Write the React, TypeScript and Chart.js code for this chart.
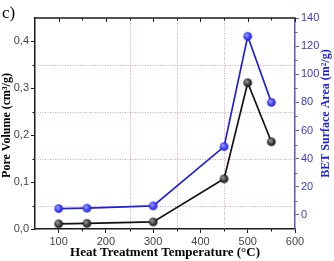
import React, { useEffect, useRef } from "react";
import { Chart, registerables } from "chart.js";

Chart.register(...registerables);

// Heat-treatment temperatures (°C)
const temperatures = [100, 160, 300, 450, 500, 550];
// Pore volume (cm³/g), left axis
const poreVolume = [0.011, 0.012, 0.015, 0.107, 0.312, 0.186];
// BET surface area (m²/g), right axis
const betArea = [4.5, 4.8, 6.4, 48.6, 127, 80];

const xTicks = [100, 200, 300, 400, 500, 600];
const xMinorTicks = [150, 250, 350, 450, 550];
const poreTicks = [0, 0.1, 0.2, 0.3, 0.4];
const poreMinorTicks = [0.05, 0.15, 0.25, 0.35];
const areaTicks = [0, 20, 40, 60, 80, 100, 120, 140];
const areaMinorTicks = [10, 30, 50, 70, 90, 110, 130];
const xGridLines = [250, 350, 450];
const poreGridLines = [0.05, 0.15, 0.25, 0.35];

const AXIS = "#1a1a1a";
const BLUE_AXIS = "#5a5ab8";
const BLUE_TEXT = "#3a3ad0";
const BLUE_LINE = "#1f1fe0";
const GRID = "rgba(220,105,125,0.65)";
const SANS = "'Liberation Sans', Arial, sans-serif";
const SERIF = "'Liberation Serif', 'Times New Roman', serif";

function sphere(base: string, light: string, r: number): HTMLCanvasElement {
  const c = document.createElement("canvas");
  const d = Math.ceil(r * 2 + 2);
  c.width = d;
  c.height = d;
  const g = c.getContext("2d")!;
  const cx = d / 2;
  const grad = g.createRadialGradient(cx - r * 0.35, cx - r * 0.35, r * 0.1, cx, cx, r);
  grad.addColorStop(0, light);
  grad.addColorStop(1, base);
  g.fillStyle = grad;
  g.beginPath();
  g.arc(cx, cx, r, 0, Math.PI * 2);
  g.fill();
  return c;
}

const framePlugin = {
  id: "frame",
  beforeDatasetsDraw(chart: any) {
    const { ctx, chartArea: a, scales } = chart;
    ctx.save();
    ctx.strokeStyle = GRID;
    ctx.lineWidth = 1;
    ctx.setLineDash([1, 1.5]);
    for (const v of xGridLines) {
      const x = Math.round(scales.x.getPixelForValue(v)) + 0.5;
      ctx.beginPath();
      ctx.moveTo(x, a.top);
      ctx.lineTo(x, a.bottom);
      ctx.stroke();
    }
    for (const v of poreGridLines) {
      const y = Math.round(scales.y.getPixelForValue(v)) + 0.5;
      ctx.beginPath();
      ctx.moveTo(a.left, y);
      ctx.lineTo(a.right, y);
      ctx.stroke();
    }
    ctx.restore();
  },
  afterDraw(chart: any) {
    const { ctx, chartArea: a, scales } = chart;
    ctx.save();
    // top frame line
    ctx.strokeStyle = AXIS;
    ctx.lineWidth = 1.5;
    ctx.beginPath();
    ctx.moveTo(a.left, a.top);
    ctx.lineTo(a.right, a.top);
    ctx.stroke();

    ctx.lineWidth = 1;
    const vtick = (v: number, y0: number, y1: number) => {
      const x = Math.round(scales.x.getPixelForValue(v)) + 0.5;
      ctx.beginPath();
      ctx.moveTo(x, y0);
      ctx.lineTo(x, y1);
      ctx.stroke();
    };
    for (const v of xTicks) vtick(v, a.top, a.top + 4);
    for (const v of xMinorTicks) {
      vtick(v, a.top, a.top + 2.5);
      vtick(v, a.bottom, a.bottom + 2.5);
    }
    for (const v of poreMinorTicks) {
      const y = Math.round(scales.y.getPixelForValue(v)) + 0.5;
      ctx.beginPath();
      ctx.moveTo(a.left - 2.5, y);
      ctx.lineTo(a.left, y);
      ctx.stroke();
    }
    ctx.strokeStyle = BLUE_AXIS;
    for (const v of areaMinorTicks) {
      const y = Math.round(scales.y2.getPixelForValue(v)) + 0.5;
      ctx.beginPath();
      ctx.moveTo(a.right, y);
      ctx.lineTo(a.right + 2.5, y);
      ctx.stroke();
    }

    // axis titles
    ctx.fillStyle = "#000";
    ctx.font = `bold 12px ${SERIF}`;
    ctx.textAlign = "center";
    ctx.textBaseline = "middle";
    ctx.save();
    ctx.translate(7, (a.top + a.bottom) / 2 + 2);
    ctx.rotate(-Math.PI / 2);
    ctx.fillText("Pore Volume (cm³/g)", 0, 0);
    ctx.restore();

    ctx.font = `bold 13px ${SERIF}`;
    ctx.fillText("Heat Treatment Temperature (°C)", 165, 253);

    ctx.fillStyle = BLUE_LINE;
    ctx.font = `bold 12px ${SERIF}`;
    ctx.save();
    ctx.translate(326, (a.top + a.bottom) / 2 - 10);
    ctx.rotate(-Math.PI / 2);
    ctx.fillText("BET Surface Area (m²/g)", 0, 0);
    ctx.restore();

    ctx.fillStyle = "#000";
    ctx.font = `17px ${SERIF}`;
    ctx.textAlign = "left";
    ctx.textBaseline = "alphabetic";
    ctx.fillText("c)", 2, 18);
    ctx.restore();
  },
};

export default function App() {
  const ref = useRef<HTMLCanvasElement>(null);

  useEffect(() => {
    document.body.style.margin = "0";
    const canvas = ref.current!;
    const black = sphere("#0a0a0a", "#9a9a9a", 4.3);
    const blue = sphere("#1414e6", "#9a9aff", 4.3);

    const chart = new Chart(canvas, {
      type: "line",
      data: {
        datasets: [
          {
            label: "Pore Volume",
            data: temperatures.map((t, i) => ({ x: t, y: poreVolume[i] })),
            yAxisID: "y",
            borderColor: "#111",
            borderWidth: 1.7,
            pointStyle: black as any,
            pointRadius: 4,
          },
          {
            label: "BET Surface Area",
            data: temperatures.map((t, i) => ({ x: t, y: betArea[i] })),
            yAxisID: "y2",
            borderColor: BLUE_LINE,
            borderWidth: 1.7,
            pointStyle: blue as any,
            pointRadius: 4,
          },
        ],
      },
      options: {
        responsive: false,
        animation: false,
        devicePixelRatio: 1,
        layout: { padding: { top: 18, left: 0, right: 0, bottom: 0 } },
        plugins: { legend: { display: false }, tooltip: { enabled: false } },
        scales: {
          x: {
            type: "linear",
            position: "bottom",
            min: 50,
            max: 600,
            afterBuildTicks: (s: any) => {
              s.ticks = xTicks.map((v) => ({ value: v }));
            },
            afterFit: (s: any) => {
              s.height = 32;
            },
            ticks: {
              font: { family: SANS, size: 11 },
              color: "#444",
              padding: 2,
              maxRotation: 0,
              autoSkip: false,
            },
            grid: { drawOnChartArea: false, drawTicks: true, tickLength: 4, color: AXIS },
            border: { display: true, color: AXIS, width: 1.5 },
          },
          y: {
            type: "linear",
            position: "left",
            min: 0,
            max: 0.45,
            afterBuildTicks: (s: any) => {
              s.ticks = poreTicks.map((v) => ({ value: v }));
            },
            afterFit: (s: any) => {
              s.width = 35;
            },
            ticks: {
              font: { family: SANS, size: 11 },
              color: "#444",
              padding: 2,
              callback: (v: any) => Number(v).toFixed(1).replace(".", ","),
            },
            grid: { drawOnChartArea: false, drawTicks: true, tickLength: 4, color: AXIS },
            border: { display: true, color: AXIS, width: 1.5 },
          },
          y2: {
            type: "linear",
            position: "right",
            min: -10,
            max: 140,
            afterBuildTicks: (s: any) => {
              s.ticks = areaTicks.map((v) => ({ value: v }));
            },
            afterFit: (s: any) => {
              s.width = 39;
            },
            ticks: {
              font: { family: SANS, size: 11 },
              color: BLUE_TEXT,
              padding: 2,
            },
            grid: { drawOnChartArea: false, drawTicks: true, tickLength: 4, color: BLUE_AXIS },
            border: { display: true, color: BLUE_AXIS, width: 1.5 },
          },
        },
      },
      plugins: [framePlugin],
    });
    return () => chart.destroy();
  }, []);

  return (
    <div style={{ width: 334, height: 261 }}>
      <canvas ref={ref} width={334} height={261} />
    </div>
  );
}
